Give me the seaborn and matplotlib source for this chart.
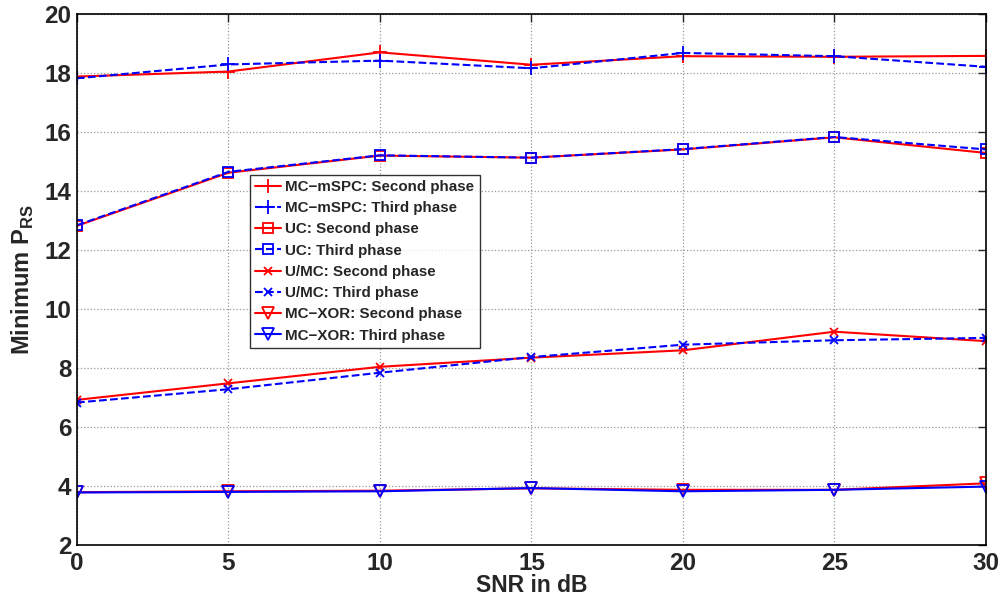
import matplotlib
matplotlib.use('Agg')
from matplotlib import pyplot as plt
import seaborn as sns

snr = [0, 5, 10, 15, 20, 25, 30]

mspc_second = [17.88, 18.05, 18.70, 18.28, 18.57, 18.55, 18.58]
mspc_third = [17.82, 18.29, 18.42, 18.16, 18.68, 18.57, 18.21]
uc_second = [12.82, 14.62, 15.20, 15.13, 15.41, 15.82, 15.29]
uc_third = [12.84, 14.65, 15.21, 15.13, 15.42, 15.83, 15.41]
umc_second = [6.92, 7.48, 8.04, 8.35, 8.60, 9.23, 8.91]
umc_third = [6.83, 7.28, 7.84, 8.37, 8.79, 8.94, 9.02]
xor_second = [3.79, 3.82, 3.84, 3.92, 3.87, 3.87, 4.09]
xor_third = [3.78, 3.80, 3.82, 3.93, 3.82, 3.87, 3.98]

series = [
    ('MC\u2212mSPC: Second phase', mspc_second, 'red', '-', '+'),
    ('MC\u2212mSPC: Third phase', mspc_third, 'blue', '--', '+'),
    ('UC: Second phase', uc_second, 'red', '-', 's'),
    ('UC: Third phase', uc_third, 'blue', '--', 's'),
    ('U/MC: Second phase', umc_second, 'red', '-', 'x'),
    ('U/MC: Third phase', umc_third, 'blue', '--', 'x'),
    ('MC\u2212XOR: Second phase', xor_second, 'red', '-', 'v'),
    ('MC\u2212XOR: Third phase', xor_third, 'blue', '-', 'v'),
]
msizes = {'+': 10, 's': 7, 'x': 6, 'v': 8}

sns.set_style('white')
plt.rcParams['font.family'] = ['Liberation Sans', 'DejaVu Sans']
plt.rcParams['font.weight'] = 'bold'
plt.rcParams['mathtext.fontset'] = 'custom'
plt.rcParams['mathtext.bf'] = 'Liberation Sans:bold'
plt.rcParams['mathtext.rm'] = 'Liberation Sans:bold'

fig = plt.figure(figsize=(10.04, 6.01), dpi=100)
ax = fig.add_axes([0.0767, 0.0932, 0.9053, 0.8835])

for name, vals, col, ls, mk in series:
    sns.lineplot(x=snr, y=vals, ax=ax, color=col, linestyle=ls, marker=mk,
                 markersize=msizes[mk], markerfacecolor='none', markeredgecolor=col,
                 markeredgewidth=1.3, linewidth=1.5, label=name)

ax.set_xlim(0, 30)
ax.set_ylim(2, 20)
ax.set_xticks(snr)
ax.set_yticks(range(2, 21, 2))
ax.grid(True, linestyle=':', color='#999999', linewidth=0.9)
ax.tick_params(axis='both', direction='in', length=6, labelsize=17.5, width=1,
               top=True, right=True)
ax.tick_params(axis='x', pad=5)
ax.tick_params(axis='y', pad=4)
for lbl in ax.get_xticklabels() + ax.get_yticklabels():
    lbl.set_fontweight('bold')
for sp in ax.spines.values():
    sp.set_color('black')
    sp.set_linewidth(1.2)

ax.set_xlabel('SNR in dB', fontsize=16.5, fontweight='bold', labelpad=-1)
ax.set_ylabel('Minimum P$_{\\mathbf{RS}}$', fontsize=17, fontweight='bold', labelpad=6)

leg = ax.legend(loc='lower left', bbox_to_anchor=(0.19, 0.371), fontsize=10.9,
                frameon=True, fancybox=False, borderpad=0.35, labelspacing=0.48,
                handlelength=1.7, handletextpad=0.3, borderaxespad=0)
leg.get_frame().set_edgecolor('black')
leg.get_frame().set_linewidth(1.0)
for t in leg.get_texts():
    t.set_fontweight('bold')

fig.savefig('out.png', dpi=100)
